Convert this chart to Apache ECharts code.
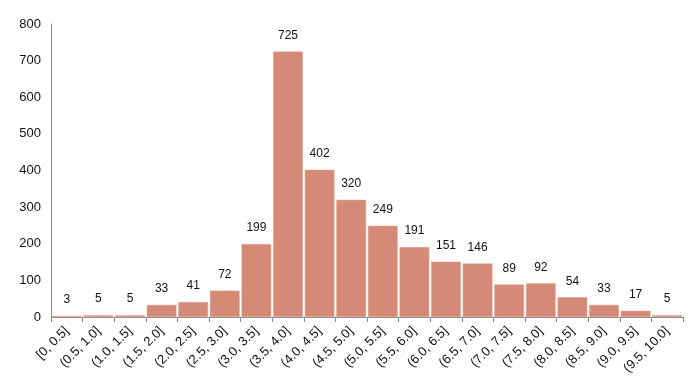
<!DOCTYPE html>
<html><head><meta charset="utf-8">
<script src="https://cdn.jsdelivr.net/npm/echarts@6/dist/echarts.min.js"></script>
<style>html,body{margin:0;padding:0;background:#fff}#c{width:700px;height:388px}</style>
</head><body><div id="c"></div>
<script>
const categories = ["[0, 0.5]","(0.5, 1.0]","(1.0, 1.5]","(1.5, 2.0]","(2.0, 2.5]","(2.5, 3.0]","(3.0, 3.5]","(3.5, 4.0]","(4.0, 4.5]","(4.5, 5.0]","(5.0, 5.5]","(5.5, 6.0]","(6.0, 6.5]","(6.5, 7.0]","(7.0, 7.5]","(7.5, 8.0]","(8.0, 8.5]","(8.5, 9.0]","(9.0, 9.5]","(9.5, 10.0]"];
const counts = [3,5,5,33,41,72,199,725,402,320,249,191,151,146,89,92,54,33,17,5];
const yTicks = [0,100,200,300,400,500,600,700,800];

const chart = echarts.init(document.getElementById('c'), null, {renderer:'canvas'});
chart.setOption({
  animation:false,
  textStyle:{fontFamily:'Liberation Sans, Arial, sans-serif'},
  grid:{left:51,right:17,top:24,bottom:71,containLabel:false},
  xAxis:{type:'category',data:categories,
    axisLine:{lineStyle:{color:'#8c8c8c',width:1}},
    axisTick:{show:true,length:5,lineStyle:{color:'#8c8c8c'}},
    axisLabel:{rotate:45,interval:0,fontSize:13,color:'#111',margin:12}},
  yAxis:{type:'value',min:yTicks[0],max:yTicks[yTicks.length-1],interval:100,
    axisLine:{show:true,lineStyle:{color:'#8c8c8c'}},
    axisTick:{show:false},splitLine:{show:false},
    axisLabel:{fontSize:13,color:'#111',margin:10}},
  series:[{type:'bar',data:counts,barCategoryGap:'6%',
    itemStyle:{color:'#d48a76',borderColor:'#e0a493',borderWidth:0.5},
    label:{show:true,position:'top',distance:10,fontSize:12,color:'#111'}}]
});
</script></body></html>
